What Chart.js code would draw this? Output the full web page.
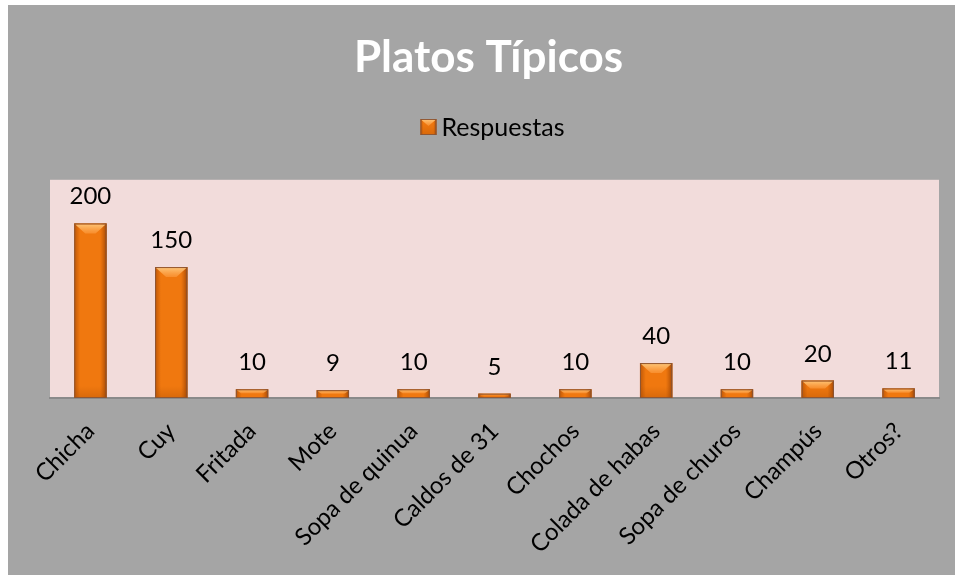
<!DOCTYPE html>
<html><head><meta charset="utf-8">
<script src="https://cdn.jsdelivr.net/npm/chart.js@4.4.0/dist/chart.umd.min.js"></script>
<style>
html,body{margin:0;padding:0;background:#fff;}
#wrap{position:absolute;left:8px;top:5px;width:947px;height:570px;}
</style></head><body>
<div id="wrap"><canvas id="c" width="947" height="570"></canvas></div>
<script>
const categories = ['Chicha','Cuy','Fritada','Mote','Sopa de quinua','Caldos de 31','Chochos','Colada de habas','Sopa de churos','Champús','Otros?'];
const respuestas = [200,150,10,9,10,5,10,40,10,20,11];
const seriesName = 'Respuestas';
const chartTitle = 'Platos Típicos';
const yMin = 0;
const yMax = 250;

const GRAY = '#a5a5a5', PINK = '#f2dcdb', ORANGE = '#f0780f';
const FONT = 'Lato';

function drawBevelBar(ctx, x0, top, w, h, bevelMax) {
  const x1 = x0 + w, bot = top + h;
  ctx.save();
  ctx.fillStyle = ORANGE;
  ctx.fillRect(x0, top, w, h);
  let g = ctx.createLinearGradient(x0, 0, x1, 0);
  g.addColorStop(0, 'rgba(150,60,0,0.55)');
  g.addColorStop(0.18, 'rgba(150,60,0,0)');
  g.addColorStop(0.8, 'rgba(150,60,0,0)');
  g.addColorStop(1, 'rgba(110,40,0,0.6)');
  ctx.fillStyle = g;
  ctx.fillRect(x0, top, w, h);
  const b = Math.min(bevelMax, h * 0.45);
  if (h > 12) {
    let gb = ctx.createLinearGradient(0, bot - 12, 0, bot);
    gb.addColorStop(0, 'rgba(160,70,0,0)');
    gb.addColorStop(1, 'rgba(160,70,0,0.3)');
    ctx.fillStyle = gb;
    ctx.fillRect(x0, bot - 12, w, 12);
  }
  let gt = ctx.createLinearGradient(0, top, 0, top + b);
  gt.addColorStop(0, 'rgba(255,205,130,0.95)');
  gt.addColorStop(1, 'rgba(255,160,70,0.55)');
  ctx.fillStyle = gt;
  ctx.beginPath();
  ctx.moveTo(x0 + 1, top + 1);
  ctx.lineTo(x1 - 1, top + 1);
  ctx.lineTo(x1 - 1 - b, top + b);
  ctx.lineTo(x0 + 1 + b, top + b);
  ctx.closePath();
  ctx.fill();
  ctx.strokeStyle = 'rgba(130,85,60,0.85)';
  ctx.lineWidth = 1;
  ctx.strokeRect(x0 + 0.5, top + 0.5, w - 1, h - 1);
  ctx.restore();
}

const bgPlugin = {
  id: 'bg',
  beforeDraw(chart) {
    const {ctx, chartArea: a} = chart;
    ctx.save();
    ctx.fillStyle = GRAY;
    ctx.fillRect(0, 0, chart.width, chart.height);
    ctx.fillStyle = PINK;
    ctx.fillRect(a.left, a.top, a.right - a.left, a.bottom - a.top);
    ctx.restore();
  }
};

const barPlugin = {
  id: 'bars',
  afterDatasetsDraw(chart) {
    const ctx = chart.ctx;
    const meta = chart.getDatasetMeta(0);
    const data = chart.data.datasets[0].data;
    meta.data.forEach((el, i) => {
      const {x, y, base, width} = el.getProps(['x', 'y', 'base', 'width'], true);
      const top = Math.min(y, base), h = Math.abs(base - y);
      drawBevelBar(ctx, x - width / 2, top, width, h, 10);
      ctx.save();
      ctx.fillStyle = '#000';
      ctx.font = '24px ' + FONT;
      ctx.textAlign = 'center';
      ctx.textBaseline = 'alphabetic';
      ctx.fillText(String(data[i]), x, top - 19);
      ctx.restore();
    });
  }
};

const legendPlugin = {
  id: 'customLegend',
  afterDraw(chart) {
    const ctx = chart.ctx, a = chart.chartArea;
    const label = chart.data.datasets[0].label;
    ctx.save();
    ctx.font = '25px ' + FONT;
    const tw = ctx.measureText(label).width;
    const box = 16, gap = 5;
    const total = box + gap + tw;
    const cx = (a.left + a.right) / 2 - 2;
    const x = cx - total / 2, cy = 122;
    drawBevelBar(ctx, x, cy - box / 2, box, box, 7);
    ctx.fillStyle = '#000';
    ctx.textAlign = 'left';
    ctx.textBaseline = 'middle';
    ctx.fillText(label, x + box + gap, cy + 1);
    ctx.restore();
  }
};

const chart = new Chart(document.getElementById('c'), {
  type: 'bar',
  data: {
    labels: categories,
    datasets: [{
      label: seriesName,
      data: respuestas,
      backgroundColor: ORANGE,
      borderWidth: 0,
      categoryPercentage: 1,
      barPercentage: 0.4
    }]
  },
  options: {
    responsive: false,
    animation: false,
    devicePixelRatio: 1,
    layout: {padding: {left: 30, right: 16, top: 0, bottom: 0}},
    plugins: {
      legend: {display: false},
      tooltip: {enabled: false},
      title: {
        display: true,
        text: chartTitle,
        color: '#ffffff',
        font: {family: FONT, size: 44, weight: 'bold', lineHeight: 1.2},
        padding: {top: 26, bottom: 96}
      }
    },
    scales: {
      y: {display: false, min: yMin, max: yMax},
      x: {
        grid: {display: false, drawTicks: false},
        border: {display: true, color: '#8a8a8a', width: 2},
        ticks: {
          autoSkip: false,
          minRotation: 45,
          maxRotation: 45,
          padding: 19,
          labelOffset: 0,
          color: '#000',
          font: {family: FONT, size: 24}
        },
        afterFit(scale) {
          scale.paddingLeft = 42;
          scale.paddingRight = 0;
          scale.height = 177;
        }
      }
    }
  },
  plugins: [bgPlugin, barPlugin, legendPlugin]
});
</script>
</body></html>
